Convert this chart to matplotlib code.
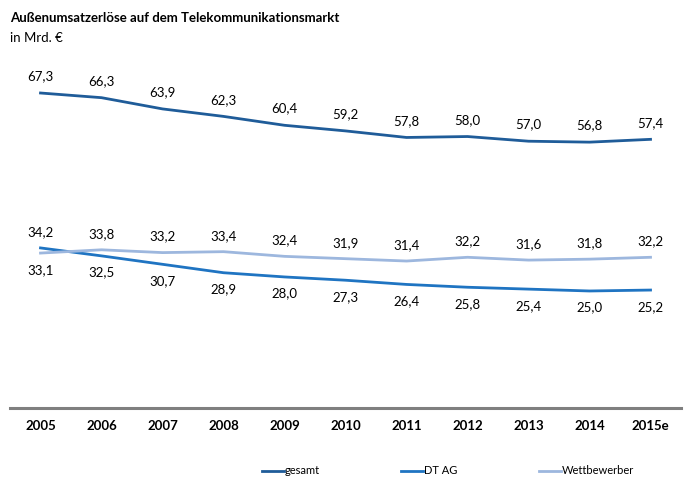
import matplotlib
matplotlib.use("Agg")
import matplotlib.pyplot as plt

# Außenumsatzerlöse in Mrd. Euro
years = ["2005", "2006", "2007", "2008", "2009", "2010", "2011", "2012", "2013", "2014", "2015e"]
gesamt = [67.3, 66.3, 63.9, 62.3, 60.4, 59.2, 57.8, 58.0, 57.0, 56.8, 57.4]
dt_ag = [34.2, 32.5, 30.7, 28.9, 28.0, 27.3, 26.4, 25.8, 25.4, 25.0, 25.2]
wettbewerber = [33.1, 33.8, 33.2, 33.4, 32.4, 31.9, 31.4, 32.2, 31.6, 31.8, 32.2]

plt.rcParams['font.family'] = ['Lato', 'DejaVu Sans']

col_gesamt = "#1f5c99"
col_dt = "#1f74c2"
col_wb = "#9db7de"

fig = plt.figure(figsize=(7, 5), dpi=100)
ax = fig.add_axes([0.0143, 0.184, 0.9586, 0.674])

x = list(range(len(years)))
ax.plot(x, gesamt, color=col_gesamt, lw=2, label="gesamt")
ax.plot(x, dt_ag, color=col_dt, lw=2, label="DT AG")
ax.plot(x, wettbewerber, color=col_wb, lw=2, label="Wettbewerber")


def fmt(v):
    return f"{v:.1f}".replace(".", ",")


for i in x:
    ax.annotate(fmt(gesamt[i]), (i, gesamt[i]), xytext=(0, 12), textcoords="offset points",
                ha="center", va="center", fontsize=9.5)
    # 2005: DT AG liegt oben, sonst Wettbewerber
    if dt_ag[i] > wettbewerber[i]:
        top, bottom = dt_ag[i], wettbewerber[i]
    else:
        top, bottom = wettbewerber[i], dt_ag[i]
    ax.annotate(fmt(top), (i, top), xytext=(0, 11.5), textcoords="offset points",
                ha="center", va="center", fontsize=9.5)
    ax.annotate(fmt(bottom), (i, bottom), xytext=(0, -12), textcoords="offset points",
                ha="center", va="center", fontsize=9.5)

ax.set_xlim(-0.5, 10.5)
ax.set_ylim(0, 72)
ax.set_yticks([])
ax.set_xticks(x)
ax.set_xticklabels(years, fontweight="bold", fontsize=9.5)
ax.tick_params(axis="x", length=0, pad=9)
for side in ["top", "right", "left"]:
    ax.spines[side].set_visible(False)
ax.spines["bottom"].set_color("#7f7f7f")
ax.spines["bottom"].set_linewidth(2.2)

fig.text(0.014, 0.963, "Außenumsatzerlöse auf dem Telekommunikationsmarkt",
         fontsize=9.5, fontweight="bold", va="center")
fig.text(0.014, 0.925, "in Mrd. €", fontsize=9.5, va="center")

ax.legend(loc="center", bbox_to_anchor=(0.64, 0.058), bbox_transform=fig.transFigure,
          ncol=3, frameon=False, fontsize=8, handlelength=2.0, handletextpad=0.1,
          columnspacing=7.3, borderpad=0)

fig.savefig("out.png", dpi=100)
